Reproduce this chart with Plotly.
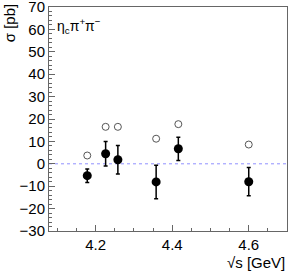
import plotly.graph_objects as go

energies = [4.178, 4.226, 4.258, 4.358, 4.416, 4.600]
sigma = [-5.3, 4.5, 1.8, -8.1, 6.7, -8.0]
sigma_err = [3.0, 5.5, 6.4, 7.5, 5.2, 6.3]
upper_limits = [3.7, 16.5, 16.5, 11.2, 17.7, 8.6]

font = "Liberation Sans, Arial, sans-serif"

fig = go.Figure()
fig.add_trace(go.Scatter(
    x=[4.078, 4.70], y=[0, 0], mode="lines",
    line=dict(color="#9090ff", width=1, dash="dot"), hoverinfo="skip"))
fig.add_trace(go.Scatter(
    x=energies, y=upper_limits, mode="markers",
    marker=dict(symbol="circle-open", size=7, color="#555555", line=dict(width=1))))
fig.add_trace(go.Scatter(
    x=energies, y=sigma, mode="markers",
    marker=dict(symbol="circle", size=9, color="black"),
    error_y=dict(type="data", array=sigma_err, color="black", thickness=1.5, width=2)))

fig.update_layout(
    width=293, height=279,
    margin=dict(l=49, r=6, t=7, b=48, autoexpand=False),
    paper_bgcolor="white", plot_bgcolor="white",
    showlegend=False,
    font=dict(family=font, size=14, color="black"),
    xaxis=dict(range=[4.078, 4.70], tickvals=[4.2, 4.4, 4.6], ticktext=["4.2", "4.4", "4.6"],
               automargin=False, ticklabeloverflow="allow",
               ticks="inside", ticklen=6, tickcolor="#666666", showgrid=False, zeroline=False,
               showline=True, linecolor="#666666", linewidth=1, mirror=True,
               minor=dict(dtick=0.05, tick0=4.0, ticks="inside", ticklen=3, tickcolor="#666666"),
               tickfont=dict(size=15)),
    yaxis=dict(range=[-30, 70], dtick=10, ticks="inside", ticklen=6, tickcolor="#666666",
               automargin=False, ticklabeloverflow="allow",
               showgrid=False, zeroline=False, showline=True, linecolor="#666666", linewidth=1,
               mirror=True, minor=dict(dtick=2, ticks="inside", ticklen=3, tickcolor="#666666"),
               tickfont=dict(size=15)),
    annotations=[
        dict(text="σ [pb]", textangle=-90, xref="paper", yref="paper", x=-0.165, y=1.02,
             xanchor="center", yanchor="top", showarrow=False, font=dict(size=15)),
        dict(text="√s [GeV]", xref="paper", yref="paper", x=1.0, y=-0.14,
             xanchor="right", yanchor="middle", showarrow=False, font=dict(size=15)),
        dict(text="η<sub>c</sub>π<sup>+</sup>π<sup>−</sup>", xref="paper", yref="paper",
             x=0.025, y=0.97, xanchor="left", yanchor="top", showarrow=False,
             font=dict(size=14)),
    ],
)
fig.write_html("out.html", config={"displayModeBar": False},
               post_script="document.body.style.margin='0';document.body.style.overflow='hidden';")
